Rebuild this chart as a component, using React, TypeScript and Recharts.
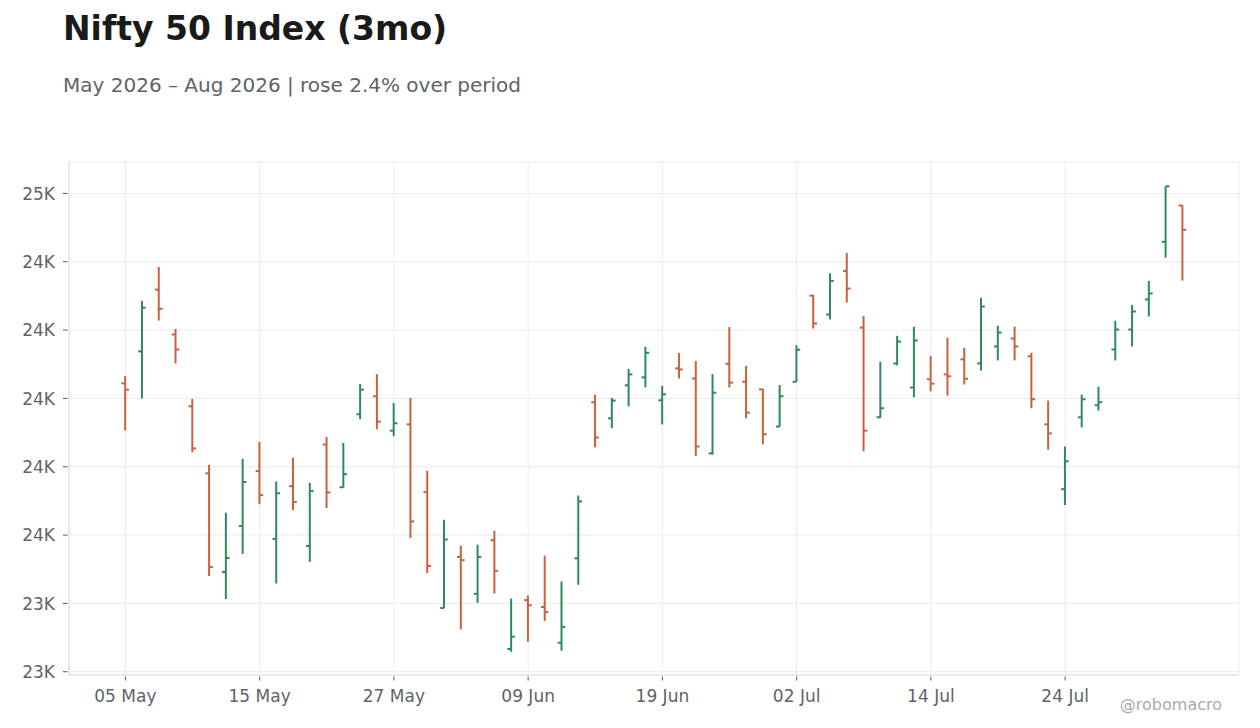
import React from 'react';
import { ComposedChart, Bar, XAxis, YAxis, CartesianGrid } from 'recharts';

const dates = [
  '05 May', '06 May', '07 May', '08 May', '11 May', '12 May', '13 May', '14 May',
  '15 May', '18 May', '19 May', '20 May', '21 May', '22 May', '25 May', '26 May',
  '27 May', '28 May', '01 Jun', '02 Jun', '03 Jun', '04 Jun', '05 Jun', '08 Jun',
  '09 Jun', '10 Jun', '11 Jun', '12 Jun', '15 Jun', '16 Jun', '17 Jun', '18 Jun',
  '19 Jun', '22 Jun', '23 Jun', '24 Jun', '25 Jun', '29 Jun', '30 Jun', '01 Jul',
  '02 Jul', '03 Jul', '06 Jul', '07 Jul', '08 Jul', '09 Jul', '10 Jul', '13 Jul',
  '14 Jul', '15 Jul', '16 Jul', '17 Jul', '20 Jul', '21 Jul', '22 Jul', '23 Jul',
  '24 Jul', '27 Jul', '28 Jul', '29 Jul', '30 Jul', '31 Jul', '03 Aug', '04 Aug',
];

const opens = [
  24055, 24172, 24398, 24234, 23971, 23726, 23365, 23533,
  23734, 23486, 23679, 23460, 23831, 23675, 23942, 24008,
  23882, 23905, 23657, 23233, 23420, 23285, 23481, 23083,
  23262, 23237, 23106, 23415, 23986, 23927, 24048, 24077,
  23993, 24110, 24073, 23799, 24127, 24061, 24033, 23897,
  24061, 24376, 24307, 24466, 24259, 23931, 24128, 24040,
  24070, 24088, 24143, 24128, 24190, 24219, 24154, 23905,
  23668, 23931, 23975, 24179, 24252, 24362, 24573, 24706,
];

const highs = [
  24082, 24357, 24481, 24254, 23998, 23757, 23582, 23779,
  23841, 23696, 23783, 23691, 23859, 23837, 24053, 24089,
  23983, 24002, 23735, 23556, 23461, 23465, 23516, 23268,
  23279, 23425, 23330, 23645, 24013, 24002, 24108, 24189,
  24046, 24166, 24137, 24089, 24261, 24119, 24035, 24049,
  24195, 24379, 24458, 24532, 24302, 24134, 24229, 24262,
  24156, 24222, 24185, 24368, 24266, 24262, 24167, 23992,
  23824, 24014, 24043, 24284, 24342, 24430, 24776, 24706,
];

const lows = [
  23883, 24000, 24285, 24128, 23803, 23350, 23266, 23431,
  23613, 23323, 23591, 23402, 23599, 23673, 23924, 23887,
  23862, 23489, 23361, 23233, 23155, 23252, 23286, 23073,
  23110, 23186, 23077, 23318, 23821, 23891, 23971, 24040,
  23905, 24073, 23789, 23794, 24040, 23927, 23832, 23897,
  24061, 24256, 24289, 24351, 23807, 23929, 24121, 24004,
  24026, 24010, 24051, 24102, 24139, 24139, 23964, 23812,
  23610, 23894, 23956, 24139, 24190, 24300, 24515, 24431,
];

const closes = [
  24032, 24332, 24328, 24179, 23817, 23383, 23416, 23694,
  23646, 23653, 23621, 23661, 23656, 23723, 24032, 23915,
  23909, 23550, 23387, 23484, 23408, 23420, 23369, 23128,
  23243, 23218, 23164, 23623, 23857, 23992, 24088, 24167,
  24015, 24106, 23824, 24021, 24058, 23948, 23869, 24008,
  24178, 24274, 24430, 24402, 23882, 23964, 24208, 24212,
  24054, 24081, 24072, 24336, 24241, 24190, 23997, 23872,
  23770, 23997, 23986, 24252, 24318, 24384, 24776, 24617,
];

const yTicks = [23000, 23250, 23500, 23750, 24000, 24250, 24500, 24750];

const TITLE = 'Nifty 50 Index (3mo)';
const SUBTITLE = 'May 2026 \u2013 Aug 2026 | rose 2.4% over period';
const WATERMARK = '@robomacro';

const UP = '#2e8b57';
const DOWN = '#c9603e';
const FONT = '"DejaVu Sans", Verdana, sans-serif';
const LABEL = '#5f6368';
const TICKLINE = '#555555';

const data = dates.map((d, i) => ({
  date: d,
  open: opens[i],
  high: highs[i],
  low: lows[i],
  close: closes[i],
  range: [lows[i], highs[i]],
}));

// matplotlib-like ".0f" formatting (round half to even)
const fmtK = (v: number) => {
  const x = v / 1000;
  const f = Math.floor(x);
  let r = Math.round(x);
  if (Math.abs(x - f - 0.5) < 1e-9) r = f % 2 === 0 ? f : f + 1;
  return `${r}K`;
};

const OhlcShape = (props: any) => {
  const { x, y, width, height, payload } = props;
  if (!payload) return null;
  const top = Math.min(y, y + height);
  const h = Math.abs(height);
  const { open, high, low, close } = payload;
  const span = high - low || 1;
  const toY = (v: number) => top + ((high - v) / span) * h;
  const cx = x + width / 2;
  const color = close >= open ? UP : DOWN;
  return (
    <g>
      <line x1={cx} x2={cx} y1={top} y2={top + h} stroke={color} strokeWidth={2} />
      <line x1={cx - 3.8} x2={cx} y1={toY(open)} y2={toY(open)} stroke={color} strokeWidth={2} />
      <line x1={cx} x2={cx + 3.8} y1={toY(close)} y2={toY(close)} stroke={color} strokeWidth={2} />
    </g>
  );
};

const YTick = (props: any) => {
  const { x, y, payload } = props;
  return (
    <g>
      <line x1={x - 6} x2={x - 1.5} y1={y} y2={y} stroke={TICKLINE} strokeWidth={1} />
      <text x={x - 14} y={y} dy="0.36em" textAnchor="end" fontSize={17} fontFamily={FONT} fill={LABEL}>
        {fmtK(payload.value)}
      </text>
    </g>
  );
};

const XTick = (props: any) => {
  const { x, y, payload } = props;
  return (
    <g>
      <line x1={x} x2={x} y1={y + 1.5} y2={y + 5.5} stroke={TICKLINE} strokeWidth={1} />
      <text x={x} y={y + 27} textAnchor="middle" fontSize={17} fontFamily={FONT} fill={LABEL}>
        {payload.value}
      </text>
    </g>
  );
};

const DOMAIN: [number, number] = [22988, 24865];

export default function App() {
  return (
    <div style={{ position: 'absolute', left: 0, top: 0, width: 1260, height: 728, background: '#ffffff' }}>
      <svg width={1260} height={728} style={{ position: 'absolute', left: 0, top: 0 }}>
        <text x={63} y={40} fontSize={33} fontWeight="bold" fontFamily={FONT} fill="#1a1a1a">
          {TITLE}
        </text>
        <text x={63} y={92} fontSize={20} fontFamily={FONT} fill={LABEL}>
          {SUBTITLE}
        </text>
        <text x={1222} y={710} textAnchor="end" fontSize={16} fontFamily={FONT} fill="#aaaaaa">
          {WATERMARK}
        </text>
      </svg>
      <div style={{ position: 'absolute', left: 0, top: 0 }}>
        <ComposedChart
          width={1260}
          height={728}
          data={data}
          margin={{ top: 162, right: 21, bottom: 0, left: 0 }}
        >
          <CartesianGrid stroke="#ebebeb" strokeWidth={1} />
          <XAxis
            dataKey="date"
            interval={7}
            height={53}
            padding={{ left: 48, right: 48 }}
            axisLine={{ stroke: '#dcdcdc' }}
            tickLine={false}
            tickSize={0}
            tickMargin={0}
            tick={<XTick />}
          />
          <XAxis
            xAxisId="top"
            dataKey="date"
            orientation="top"
            height={0}
            padding={{ left: 48, right: 48 }}
            axisLine={{ stroke: '#dcdcdc' }}
            tickLine={false}
            tick={false}
          />
          <YAxis
            type="number"
            domain={DOMAIN}
            allowDataOverflow
            ticks={yTicks}
            width={69}
            axisLine={{ stroke: '#dcdcdc' }}
            tickLine={false}
            tickSize={0}
            tickMargin={0}
            tick={<YTick />}
          />
          <YAxis
            yAxisId="right"
            orientation="right"
            type="number"
            domain={DOMAIN}
            allowDataOverflow
            width={0}
            axisLine={{ stroke: '#dcdcdc' }}
            tickLine={false}
            tick={false}
          />
          <Bar dataKey="range" shape={<OhlcShape />} isAnimationActive={false} />
        </ComposedChart>
      </div>
    </div>
  );
}
